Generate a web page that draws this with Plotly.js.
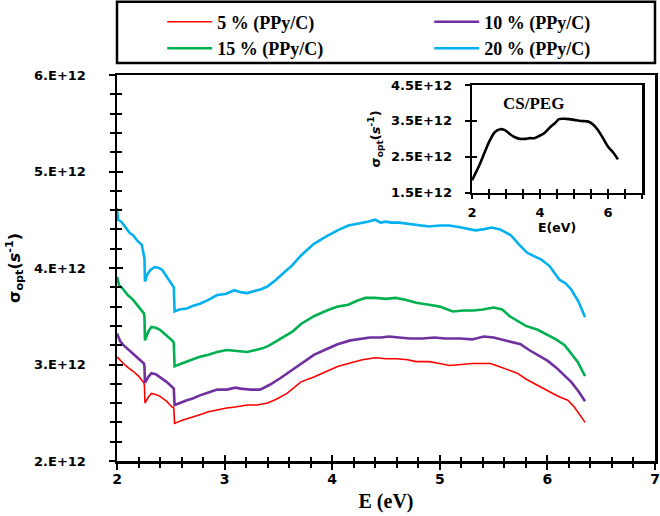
<!DOCTYPE html>
<html>
<head>
<meta charset="utf-8">
<script src="https://cdn.plot.ly/plotly-3.0.1.min.js"></script>
<style>html,body{margin:0;padding:0;background:#fff;}#chart{width:660px;height:516px;}</style>
</head>
<body>
<div id="chart"></div>
<script>
// ---- data (sigma values in units of 1E+12 s^-1) ----
const seriesNames = ["5 % (PPy/C)", "10 % (PPy/C)", "15 % (PPy/C)", "20 % (PPy/C)"];

const x5 = [2.00,2.03,2.06,2.10,2.15,2.20,2.25,2.255,2.26,2.29,2.32,2.36,2.40,2.46,2.51,2.528,2.535,2.60,2.65,2.71,2.77,2.85,2.93,3.02,3.10,3.21,3.30,3.40,3.48,3.58,3.71,3.83,3.95,4.05,4.15,4.28,4.40,4.50,4.60,4.70,4.78,4.90,5.00,5.09,5.20,5.30,5.40,5.47,5.55,5.63,5.72,5.80,5.88,5.97,6.05,6.12,6.19,6.25,6.30,6.35];
const y5 = [3.08,3.04,3.01,2.97,2.93,2.88,2.81,2.78,2.60,2.66,2.70,2.69,2.67,2.62,2.56,2.55,2.39,2.42,2.44,2.46,2.48,2.51,2.53,2.55,2.56,2.58,2.58,2.60,2.64,2.70,2.82,2.87,2.93,2.98,3.01,3.05,3.07,3.06,3.06,3.05,3.03,3.03,3.01,2.99,3.00,3.01,3.01,3.01,2.98,2.95,2.91,2.85,2.80,2.75,2.70,2.66,2.63,2.56,2.48,2.40];

const x10 = [2.00,2.03,2.06,2.10,2.15,2.20,2.25,2.255,2.26,2.29,2.32,2.36,2.40,2.46,2.51,2.528,2.535,2.60,2.65,2.71,2.77,2.85,2.93,3.02,3.10,3.15,3.24,3.33,3.42,3.52,3.60,3.71,3.83,3.95,4.05,4.17,4.27,4.35,4.45,4.53,4.62,4.72,4.84,4.95,5.05,5.19,5.30,5.41,5.50,5.58,5.66,5.75,5.83,5.91,6.00,6.08,6.16,6.22,6.29,6.35];
const y10 = [3.32,3.24,3.20,3.16,3.12,3.07,3.01,2.98,2.81,2.87,2.91,2.90,2.87,2.82,2.77,2.75,2.58,2.61,2.63,2.65,2.68,2.71,2.74,2.74,2.76,2.75,2.74,2.74,2.79,2.86,2.92,3.01,3.10,3.16,3.21,3.25,3.27,3.28,3.28,3.29,3.28,3.27,3.27,3.28,3.27,3.27,3.26,3.29,3.28,3.26,3.24,3.21,3.15,3.10,3.04,2.97,2.89,2.82,2.72,2.62];

const x15 = [2.00,2.02,2.05,2.10,2.15,2.20,2.25,2.255,2.26,2.29,2.32,2.36,2.40,2.46,2.52,2.528,2.535,2.60,2.65,2.71,2.77,2.85,2.93,3.02,3.10,3.21,3.29,3.36,3.42,3.48,3.55,3.63,3.71,3.83,3.95,4.05,4.15,4.23,4.31,4.40,4.50,4.59,4.68,4.78,4.90,5.00,5.12,5.22,5.31,5.40,5.50,5.58,5.65,5.72,5.80,5.91,6.00,6.08,6.16,6.22,6.28,6.35];
const y15 = [3.91,3.82,3.79,3.72,3.67,3.60,3.53,3.50,3.25,3.34,3.39,3.38,3.36,3.30,3.24,3.22,2.98,3.01,3.03,3.05,3.08,3.10,3.13,3.15,3.14,3.13,3.15,3.17,3.20,3.24,3.28,3.34,3.42,3.50,3.56,3.60,3.62,3.66,3.69,3.69,3.68,3.69,3.67,3.64,3.62,3.60,3.55,3.56,3.56,3.57,3.59,3.57,3.50,3.45,3.40,3.36,3.31,3.26,3.20,3.12,3.03,2.88];

const x20 = [2.00,2.01,2.04,2.08,2.12,2.15,2.19,2.23,2.25,2.255,2.26,2.28,2.31,2.35,2.39,2.42,2.45,2.48,2.52,2.528,2.535,2.58,2.65,2.71,2.77,2.85,2.93,3.01,3.09,3.15,3.21,3.28,3.34,3.40,3.47,3.55,3.63,3.71,3.83,3.95,4.05,4.15,4.25,4.33,4.40,4.45,4.50,4.55,4.62,4.70,4.80,4.90,5.00,5.09,5.20,5.33,5.40,5.48,5.56,5.66,5.74,5.81,5.88,5.94,6.02,6.11,6.17,6.22,6.29,6.35];
const y20 = [4.62,4.50,4.48,4.42,4.36,4.34,4.28,4.24,4.15,4.10,3.86,3.93,3.98,4.01,4.00,3.98,3.93,3.88,3.82,3.80,3.55,3.57,3.58,3.61,3.63,3.67,3.72,3.73,3.77,3.75,3.74,3.76,3.78,3.81,3.87,3.95,4.03,4.13,4.25,4.33,4.39,4.44,4.46,4.48,4.50,4.47,4.48,4.47,4.47,4.46,4.45,4.43,4.44,4.44,4.42,4.39,4.40,4.42,4.40,4.34,4.24,4.16,4.12,4.09,4.02,3.88,3.84,3.78,3.65,3.49];

// inset: CS/PEG
const xPEG = [2.00,2.12,2.24,2.38,2.53,2.68,2.83,2.95,3.03,3.13,3.23,3.40,3.57,3.70,3.82,3.97,4.11,4.31,4.45,4.56,4.70,4.85,5.00,5.20,5.35,5.45,5.58,5.70,5.85,6.00,6.15,6.29];
const yPEG = [1.85,2.08,2.32,2.65,2.97,3.20,3.27,3.25,3.20,3.12,3.06,3.00,3.00,3.02,3.02,3.08,3.15,3.34,3.45,3.55,3.56,3.55,3.53,3.50,3.49,3.47,3.38,3.25,3.02,2.78,2.62,2.43];

// tick labels
const mainYTickVals = [2,3,4,5,6];
const mainYTickText = ["2.E+12","3.E+12","4.E+12","5.E+12","6.E+12"];
const insetYTickVals = [1.5,2.5,3.5,4.5];
const insetYTickText = ["1.5E+12","2.5E+12","3.5E+12","4.5E+12"];
const mainXTickVals = [2,3,4,5,6,7];
const insetXTickVals = [2,4,6];

const colors = ["#FF0000","#7030A0","#00B050","#00B0F0"];
const widths = [1.6,2.6,2.6,2.6];
const E12 = v => v*1e12;

const xs = [x5,x10,x15,x20];
const ys = [y5,y10,y15,y20];

const traces = xs.map((xv,i)=>({
  type:'scatter', mode:'lines', name: seriesNames[i],
  x: xv, y: ys[i].map(E12),
  line:{color:colors[i], width:widths[i]},
  xaxis:'x', yaxis:'y'
}));

traces.push({
  type:'scatter', mode:'lines', name:'CS/PEG', showlegend:false,
  x:xPEG, y:yPEG.map(E12), line:{color:'#000', width:2.6, shape:'spline'},
  xaxis:'x2', yaxis:'y2'
});
// empty helper traces so the inward-tick overlay axes get drawn
traces.push({type:'scatter', x:[], y:[], xaxis:'x3', yaxis:'y3', showlegend:false, hoverinfo:'skip'});
traces.push({type:'scatter', x:[], y:[], xaxis:'x4', yaxis:'y4', showlegend:false, hoverinfo:'skip'});

const tickFont = {family:'DejaVu Sans', size:13, color:'#000', weight:'bold'};
const tickFontX = {family:'DejaVu Sans', size:14, color:'#000', weight:'bold'};
const insetFont = {family:'DejaVu Sans', size:13, color:'#000', weight:'bold'};

const baseAx = {showgrid:false, zeroline:false, showline:true, linecolor:'#000', linewidth:2.5, tickcolor:'#000', tickwidth:2, mirror:true};

const layout = {
  width:660, height:516,
  margin:{l:117, r:5, t:75, b:55, autoexpand:false},
  paper_bgcolor:'#fff', plot_bgcolor:'#fff',
  showlegend:true,
  legend:{orientation:'h', x:0.084, xanchor:'left', y:1.185, yanchor:'top',
    entrywidth:207, entrywidthmode:'pixels',
    font:{family:'Liberation Serif', size:18, color:'#000', weight:'bold'},
    bgcolor:'rgba(0,0,0,0)', borderwidth:0, itemwidth:45, tracegroupgap:0},
  xaxis: Object.assign({}, baseAx, {
    range:[2,7], tickmode:'array', tickvals:mainXTickVals,
    ticks:'outside', ticklen:6, tickfont:tickFontX, ticklabelstandoff:-2,
    minor:{dtick:0.2, tick0:2, ticks:'outside', ticklen:4, tickwidth:2, tickcolor:'#000', showgrid:false},
    title:{text:'<b>E (eV)</b>', font:{family:'Liberation Serif', size:20, color:'#000'}, standoff:8},
    domain:[0,1], anchor:'y'
  }),
  yaxis: Object.assign({}, baseAx, {
    range:[2e12,6e12], tickmode:'array', tickvals:mainYTickVals.map(E12), ticktext:mainYTickText,
    ticks:'outside', ticklen:6, tickfont:tickFont, ticklabelstandoff:20,
    minor:{dtick:0.2e12, tick0:2e12, ticks:'outside', ticklen:5, tickwidth:2, tickcolor:'#000', showgrid:false},
    title:{text:'<b>σ<sub>opt</sub>(<i>s</i><sup>-1</sup>)</b>', font:{family:'DejaVu Sans', size:16, color:'#000'}, standoff:10},
    domain:[0,1], anchor:'x'
  }),
  xaxis3: Object.assign({}, baseAx, {
    overlaying:'x', anchor:'y3', range:[2,7], tickmode:'array', tickvals:mainXTickVals,
    ticks:'inside', ticklen:6, showticklabels:false, showline:false, mirror:false,
    minor:{dtick:0.2, tick0:2, ticks:'inside', ticklen:4, tickwidth:2, tickcolor:'#000', showgrid:false}
  }),
  yaxis3: Object.assign({}, baseAx, {
    overlaying:'y', anchor:'x3', range:[2e12,6e12], tickmode:'array', tickvals:mainYTickVals.map(E12),
    ticks:'inside', ticklen:6, showticklabels:false, showline:false, mirror:false,
    minor:{dtick:0.2e12, tick0:2e12, ticks:'inside', ticklen:5, tickwidth:2, tickcolor:'#000', showgrid:false}
  }),
  xaxis2: Object.assign({}, baseAx, {
    domain:[0.660,0.976], anchor:'y2', range:[2,7], tickmode:'array', tickvals:insetXTickVals,
    ticks:'outside', ticklen:4, tickfont:insetFont, ticklabelstandoff:2,
    minor:{dtick:0.5, tick0:2, ticks:'outside', ticklen:4, tickwidth:2, tickcolor:'#000', showgrid:false},
    title:{text:'<b>E(eV)</b>', font:{family:'DejaVu Sans', size:12.5, color:'#000'}, standoff:0}
  }),
  yaxis2: Object.assign({}, baseAx, {
    domain:[0.695,0.974], anchor:'x2', range:[1.5e12,4.5e12], tickmode:'array',
    tickvals:insetYTickVals.map(E12), ticktext:insetYTickText,
    ticks:'outside', ticklen:5, tickfont:insetFont, ticklabelstandoff:10,
    title:{text:'<b>σ<sub>opt</sub>(<i>s</i><sup>-1</sup>)</b>', font:{family:'DejaVu Sans', size:13, color:'#000'}, standoff:8}
  }),
  xaxis4: Object.assign({}, baseAx, {
    overlaying:'x2', anchor:'y4', range:[2,7], tickmode:'array', tickvals:insetXTickVals,
    ticks:'inside', ticklen:4, showticklabels:false, showline:false, mirror:false,
    minor:{dtick:0.5, tick0:2, ticks:'inside', ticklen:4, tickwidth:2, tickcolor:'#000', showgrid:false}
  }),
  yaxis4: Object.assign({}, baseAx, {
    overlaying:'y2', anchor:'x4', range:[1.5e12,4.5e12], tickmode:'array', tickvals:insetYTickVals.map(E12),
    ticks:'inside', ticklen:5, showticklabels:false, showline:false, mirror:false
  }),
  shapes:[
    {type:'rect', xref:'paper', yref:'paper', x0:0, x1:1, y0:1.031, y1:1.19,
     line:{color:'#000', width:2.5}, fillcolor:'rgba(0,0,0,0)', layer:'above'}
  ],
  annotations:[
    {xref:'x2 domain', yref:'y2 domain', x:0.36, y:0.83, xanchor:'center', yanchor:'middle',
     text:'<b>CS/PEG</b>', showarrow:false,
     font:{family:'Liberation Serif', size:17, color:'#000'}}
  ]
};

Plotly.newPlot('chart', traces, layout, {displayModeBar:false, staticPlot:true});
</script>
</body>
</html>
